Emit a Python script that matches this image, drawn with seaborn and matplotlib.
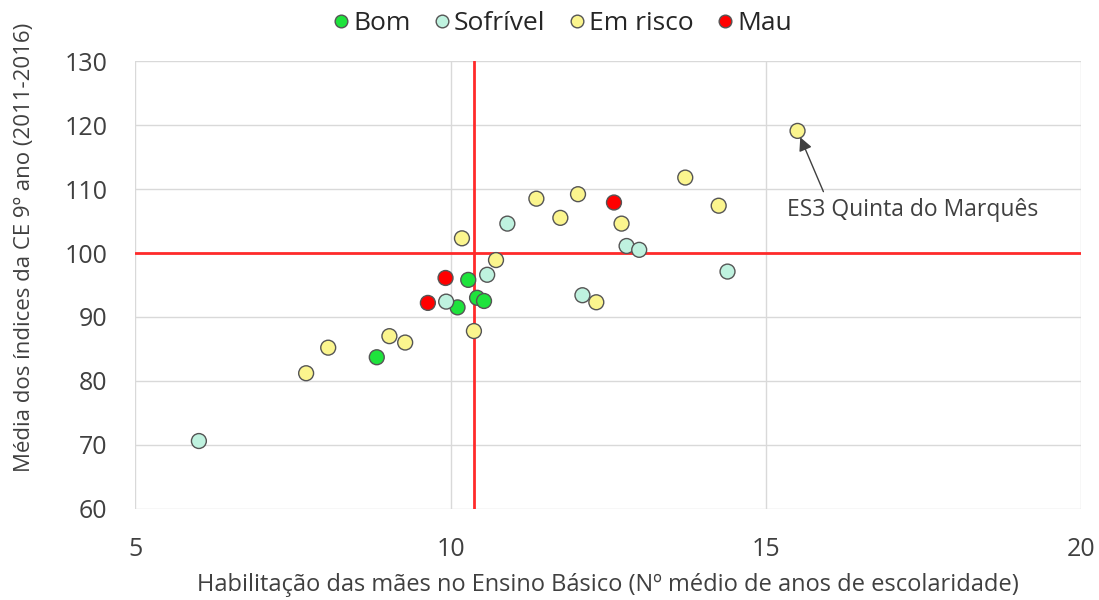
import matplotlib
matplotlib.use("Agg")
import matplotlib.pyplot as plt
import pandas as pd
import seaborn as sns

# Data
bom_x = [8.83, 10.28, 10.11, 10.42, 10.53]
bom_y = [83.7, 95.8, 91.5, 93.0, 92.5]

sofrivel_x = [6.01, 9.93, 10.58, 10.90, 12.79, 12.99, 12.09, 14.39]
sofrivel_y = [70.6, 92.4, 96.6, 104.6, 101.1, 100.5, 93.4, 97.1]

risco_x = [10.18, 10.72, 10.37, 11.36, 12.02, 11.74, 12.71, 12.31,
           13.72, 14.25, 15.50, 8.06, 7.71, 9.03, 9.28]
risco_y = [102.3, 98.9, 87.8, 108.5, 109.2, 105.5, 104.6, 92.3,
           111.8, 107.4, 119.1, 85.2, 81.2, 87.0, 86.0]

mau_x = [9.92, 9.64, 12.59]
mau_y = [96.1, 92.2, 107.9]

categories = ["Bom", "Sofrível", "Em risco", "Mau"]
colors = ["#1ee33c", "#bff2df", "#fbf58e", "#ff0000"]

ref_x = 10.37
ref_y = 100

df = pd.concat([
    pd.DataFrame({"x": bom_x, "y": bom_y, "cat": "Bom"}),
    pd.DataFrame({"x": sofrivel_x, "y": sofrivel_y, "cat": "Sofrível"}),
    pd.DataFrame({"x": risco_x, "y": risco_y, "cat": "Em risco"}),
    pd.DataFrame({"x": mau_x, "y": mau_y, "cat": "Mau"}),
])

sns.set_style("white")
plt.rcParams['font.family'] = ['Open Sans', 'DejaVu Sans']

fig, ax = plt.subplots(figsize=(10.99, 6), dpi=100)
fig.subplots_adjust(left=0.123, right=0.984, top=0.898, bottom=0.152)

ax.axvline(ref_x, color="#ff2a2a", lw=2, zorder=2)
ax.axhline(ref_y, color="#ff2a2a", lw=2, zorder=2)

sns.scatterplot(data=df, x="x", y="y", hue="cat", hue_order=categories,
                palette=dict(zip(categories, colors)), s=115,
                edgecolor="#555555", linewidth=1.0, ax=ax, zorder=3)

ax.set_xlim(5, 20)
ax.set_ylim(60, 130)
ax.set_xticks([5, 10, 15, 20])
ax.set_yticks(range(60, 131, 10))
ax.grid(True, color="#d9d9d9", lw=1)
ax.set_axisbelow(True)
for s in ax.spines.values():
    s.set_visible(False)
ax.tick_params(labelsize=18, length=0, pad=20, labelcolor="#404040")

ax.set_xlabel("Habilitação das mães no Ensino Básico (Nº médio de anos de escolaridade)",
              fontsize=17, color="#404040", labelpad=8)
ax.set_ylabel("Média dos índices da CE 9º ano (2011-2016)",
              fontsize=16, color="#404040")
ax.yaxis.set_label_coords(-0.106, 0.585)

# annotation: arrow + label
ax.annotate("", xy=(15.5, 119.1), xytext=(15.91, 109.6),
            arrowprops=dict(arrowstyle="-|>", color="#404040", lw=1,
                            shrinkA=0, shrinkB=5, mutation_scale=20))
ax.text(15.34, 106.7, "ES3 Quinta do Marquês", fontsize=16.5, color="#404040",
        va="center", ha="left")

ax.legend(loc="center", bbox_to_anchor=(0.512, 0.96), bbox_transform=fig.transFigure,
          ncol=4, frameon=False, fontsize=19, handlelength=0.55, handletextpad=0.2,
          columnspacing=0.9, markerscale=0.85)

fig.savefig("out.png", dpi=100)
